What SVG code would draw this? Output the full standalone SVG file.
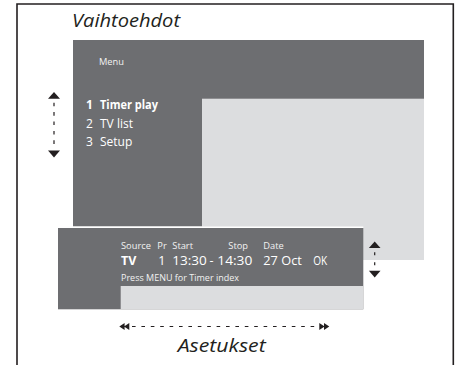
<svg xmlns="http://www.w3.org/2000/svg" width="460" height="365" viewBox="0 0 460 365">
  <style>
    .frame { fill: none; stroke: #231f20; stroke-width: 1.6; }
    .dark { fill: #6d6e71; }
    .light { fill: #dcdddf; }
    .title { font-family: "Open Sans", "Noto Sans", sans-serif; font-style: italic; font-size: 18px; fill: #231f20; }
    .menu { font-family: "Open Sans", "Noto Sans", sans-serif; fill: #ffffff; }
    .small { font-size: 9.3px; fill: #f2f2f2; }
    .item { font-size: 12px; }
    .bold { font-weight: bold; }
    .big { font-size: 12.5px; }
    .head { fill: #231f20; stroke: none; }
    .dash { stroke: #231f20; stroke-width: 1.2; fill: none; stroke-dasharray: 3.6 5.8; }
  </style>

  <g id="frame">
    <path class="frame" d="M17,366 V4 H453.3 V366"/>
  </g>

  <g id="title-options">
    <text class="title" x="72" y="27.3" textLength="108" lengthAdjust="spacingAndGlyphs">Vaihtoehdot</text>
  </g>

  <g id="menu-panel">
    <rect class="dark" x="73" y="40" width="351" height="186.5"/>
    <rect class="light" x="202" y="98.7" width="222" height="161.3"/>
    <text class="menu small" x="99" y="65">Menu</text>
    <text class="menu item bold" x="86" y="109.3">1</text>
    <text class="menu item bold" x="100" y="109.3" textLength="58" lengthAdjust="spacingAndGlyphs">Timer play</text>
    <text class="menu item" x="86" y="127.7">2</text>
    <text class="menu item" x="100" y="127.7">TV list</text>
    <text class="menu item" x="86" y="146">3</text>
    <text class="menu item" x="100" y="146">Setup</text>
  </g>

  <g id="timer-panel">
    <rect fill="#ffffff" x="58" y="226.5" width="305.3" height="1.6"/>
    <rect class="dark" x="58" y="228" width="305.3" height="81.3"/>
    <rect class="light" x="120.7" y="286" width="242.6" height="23.3"/>
    <text class="menu small" x="121" y="249">Source</text>
    <text class="menu small" x="157.3" y="249">Pr</text>
    <text class="menu small" x="172.3" y="249">Start</text>
    <text class="menu small" x="228.3" y="249">Stop</text>
    <text class="menu small" x="263.3" y="249">Date</text>
    <text class="menu big bold" x="121" y="264.7">TV</text>
    <text class="menu big" x="158.3" y="264.7">1</text>
    <text class="menu big" x="172.3" y="264.7" textLength="34.5" lengthAdjust="spacingAndGlyphs">13:30</text>
    <text class="menu big" x="209.6" y="264.7">-</text>
    <text class="menu big" x="217.3" y="264.7" textLength="35" lengthAdjust="spacingAndGlyphs">14:30</text>
    <text class="menu big" x="263.3" y="264.7" textLength="38.5" lengthAdjust="spacingAndGlyphs">27 Oct</text>
    <text class="menu big" x="313.3" y="264.7" textLength="14" lengthAdjust="spacingAndGlyphs">OK</text>
    <text class="menu small" x="121" y="281.3" textLength="118" lengthAdjust="spacingAndGlyphs">Press MENU for Timer index</text>
  </g>

  <g id="connectors">
    <g id="arrow-options">
      <path class="head" d="M54,92 L60,98.7 L48,98.7 Z"/>
      <line class="dash" x1="54" y1="102.7" x2="54" y2="146"/>
      <path class="head" d="M48,150.5 L60,150.5 L54,157.5 Z"/>
    </g>
    <g id="arrow-settings-vertical">
      <path class="head" d="M374.7,241.5 L380.5,247.9 L368.9,247.9 Z"/>
      <line class="dash" x1="374.7" y1="252.3" x2="374.7" y2="266" style="stroke-dasharray:3 7"/>
      <path class="head" d="M368.9,270.8 L380.5,270.8 L374.7,277.5 Z"/>
    </g>
    <g id="arrow-settings-horizontal">
      <path class="head" d="M119.3,326.5 L124.6,323 L124.6,330 Z M124,326.5 L129.3,323 L129.3,330 Z"/>
      <line class="dash" x1="132" y1="326.5" x2="317" y2="326.5"/>
      <path class="head" d="M319.3,323 L324.6,326.5 L319.3,330 Z M324,323 L329.3,326.5 L324,330 Z"/>
    </g>
  </g>

  <g id="title-settings">
    <text class="title" x="177.7" y="352" textLength="88" lengthAdjust="spacingAndGlyphs">Asetukset</text>
  </g>
</svg>
